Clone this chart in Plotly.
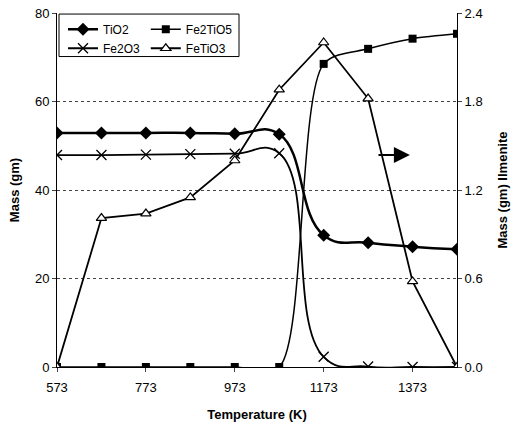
import plotly.graph_objects as go

temperature = [573, 673, 773, 873, 973, 1073, 1173, 1273, 1373, 1473]
tio2 = [52.9, 52.9, 52.9, 52.9, 52.7, 52.6, 29.8, 28.1, 27.2, 26.6]
fe2o3 = [47.9, 47.9, 48.0, 48.1, 48.2, 48.3, 2.3, 0.1, 0.0, 0.0]
fe2tio5 = [0, 0, 0, 0, 0, 0, 68.5, 71.9, 74.2, 75.3]
fetio3 = [0.0, 1.01, 1.04, 1.15, 1.40, 1.88, 2.20, 1.82, 0.58, 0.0]

x_ticks = [573, 773, 973, 1173, 1373]
left_ticks = [0, 20, 40, 60, 80]
right_ticks = [0.0, 0.6, 1.2, 1.8, 2.4]
right_tick_text = ["0.0", "0.6", "1.2", "1.8", "2.4"]

FONT = "Liberation Sans, Arial, sans-serif"

fig = go.Figure()
fig.add_trace(go.Scatter(
    x=temperature, y=tio2, name="TiO2", mode="lines+markers",
    line=dict(color="black", width=2.5, shape="spline", smoothing=1.3),
    marker=dict(symbol="diamond", size=10, color="black"),
    legend="legend"))
fig.add_trace(go.Scatter(
    x=temperature, y=fe2o3, name="Fe2O3", mode="lines+markers",
    line=dict(color="black", width=1.8, shape="spline", smoothing=1.3),
    marker=dict(symbol="x-thin-open", size=10, color="black", line=dict(width=1.3, color="black")),
    legend="legend"))
fig.add_trace(go.Scatter(
    x=temperature, y=fe2tio5, name="Fe2TiO5", mode="lines+markers",
    line=dict(color="black", width=1.5, shape="spline", smoothing=0.8),
    marker=dict(symbol="square", size=8, color="black"),
    legend="legend2"))
fig.add_trace(go.Scatter(
    x=temperature, y=fetio3, name="FeTiO3", mode="lines+markers", yaxis="y2",
    line=dict(color="black", width=1.8),
    marker=dict(symbol="triangle-up", size=9, color="white", line=dict(width=1.2, color="black")),
    legend="legend2"))

fig.add_annotation(
    x=1367, y=47.9, ax=1293, ay=47.9, xref="x", yref="y", axref="x", ayref="y",
    text="", showarrow=True, arrowhead=2, arrowsize=1.6, arrowwidth=2, arrowcolor="black")

fig.add_shape(type="rect", xref="paper", yref="paper",
              x0=0.005, x1=0.455, y0=0.877, y1=0.997,
              line=dict(color="black", width=1), fillcolor="white", layer="below")

fig.update_layout(
    width=515, height=427,
    margin=dict(l=57, r=58, t=13, b=60, autoexpand=False),
    paper_bgcolor="white", plot_bgcolor="white",
    font=dict(family=FONT, size=13, color="black"),
    showlegend=True,
    legend=dict(x=0.015, y=0.995, xanchor="left", yanchor="top", bgcolor="rgba(0,0,0,0)",
                font=dict(size=12), tracegroupgap=0, itemwidth=30),
    legend2=dict(x=0.222, y=0.995, xanchor="left", yanchor="top", bgcolor="rgba(0,0,0,0)",
                 font=dict(size=12), tracegroupgap=0, itemwidth=30),
    xaxis=dict(range=[573, 1473], tickvals=x_ticks, ticks="outside", ticklen=4,
               ticklabelstandoff=4,
               showline=True, linecolor="black", linewidth=1, showgrid=False, zeroline=False,
               automargin=False,
               title=dict(text="<b>Temperature (K)</b>", font=dict(size=13), standoff=16),
               tickfont=dict(size=13)),
    yaxis=dict(range=[0, 80], tickvals=left_ticks, ticks="outside", ticklen=4,
               showline=True, linecolor="black", linewidth=1, automargin=False,
               showgrid=True, gridcolor="#444444", griddash="dot", gridwidth=1, zeroline=False,
               title=dict(text="<b>Mass (gm)</b>", font=dict(size=13), standoff=12),
               tickfont=dict(size=13)),
    yaxis2=dict(range=[0, 2.4], tickvals=right_ticks, ticktext=right_tick_text, overlaying="y",
                side="right", ticks="outside", ticklen=4, showline=True, linecolor="black",
                linewidth=1, showgrid=False, zeroline=False, automargin=False,
                title=dict(text="<b>Mass (gm) Ilmenite</b>", font=dict(size=13), standoff=16),
                tickfont=dict(size=13)),
)

fig.write_html("out.html", config={"displayModeBar": False},
               post_script="document.body.style.margin='0';")
